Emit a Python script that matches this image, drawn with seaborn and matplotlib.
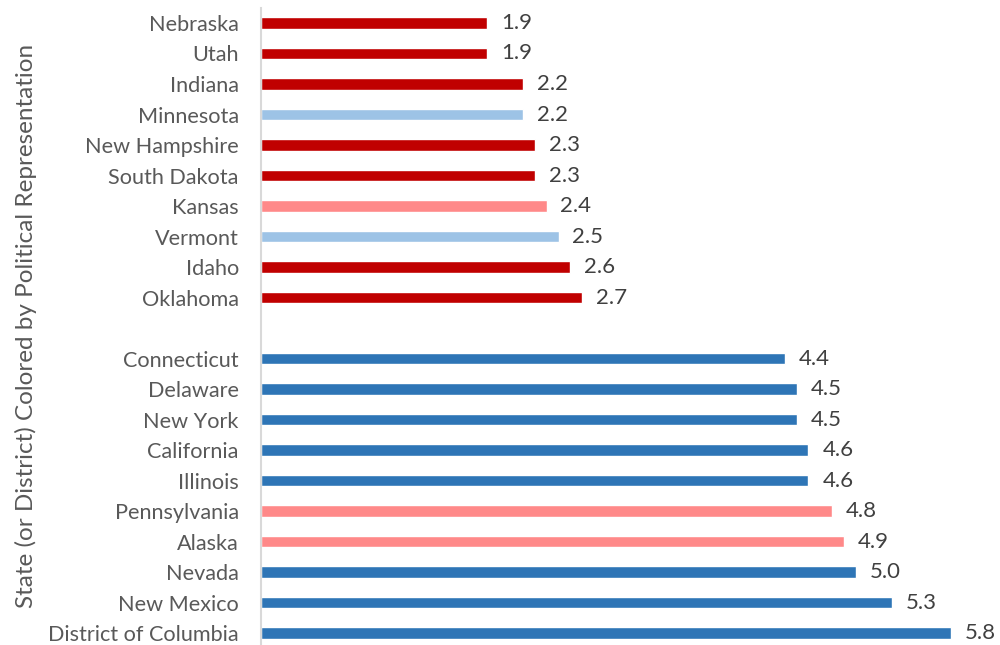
import matplotlib
matplotlib.use('Agg')
import pandas as pd
import seaborn as sns
from matplotlib import pyplot as plt

# Data (top to bottom)
states = ['Nebraska', 'Utah', 'Indiana', 'Minnesota', 'New Hampshire', 'South Dakota',
          'Kansas', 'Vermont', 'Idaho', 'Oklahoma',
          'Connecticut', 'Delaware', 'New York', 'California', 'Illinois',
          'Pennsylvania', 'Alaska', 'Nevada', 'New Mexico', 'District of Columbia']
values = [1.9, 1.9, 2.2, 2.2, 2.3, 2.3, 2.4, 2.5, 2.6, 2.7,
          4.4, 4.5, 4.5, 4.6, 4.6, 4.8, 4.9, 5.0, 5.3, 5.8]
# political representation: R = red, r = light red (mixed), D = blue, d = light blue (mixed)
party = ['R', 'R', 'R', 'd', 'R', 'R', 'r', 'd', 'R', 'R',
         'D', 'D', 'D', 'D', 'D', 'r', 'r', 'D', 'D', 'D']

party_colors = {'R': '#C00000', 'r': '#FF8989', 'D': '#2E75B6', 'd': '#9DC3E6'}

df = pd.DataFrame({'state': states, 'value': values, 'party': party})

# Order with an empty slot separating the two groups
order = states[:10] + [''] + states[10:]
palette = {s: party_colors[p] for s, p in zip(states, party)}

sns.set_style('white')
plt.rcParams['font.family'] = ['Lato', 'DejaVu Sans']

fig = plt.figure(figsize=(10, 6.45), dpi=100)
ax = fig.add_axes([0.261, 0.0, 0.739, 0.988])

sns.barplot(x='value',
            y='state',
            hue='state',
            order=order,
            hue_order=states,
            palette=palette,
            saturation=1,
            width=0.37,
            legend=False,
            ax=ax,
            data=df)

# Value labels
for cont in ax.containers:
    ax.bar_label(cont, fmt='%.1f', padding=10, fontsize=16, color='#404040')

ax.set_xlim(0, 6.21)
ax.set_ylim(20.39, -0.5)

# Axes styling
for side in ['top', 'right', 'bottom']:
    ax.spines[side].set_visible(False)
ax.spines['left'].set_color('#D9D9D9')
ax.spines['left'].set_linewidth(1.5)
ax.set_xticks([])
ax.tick_params(axis='y', length=0, pad=16, labelsize=15.6, labelcolor='#595959')
ax.set_xlabel('')
ax.set_ylabel('State (or District) Colored by Political Representation',
              fontsize=17.5, color='#595959', labelpad=8)

fig.savefig('out.png', dpi=100)
